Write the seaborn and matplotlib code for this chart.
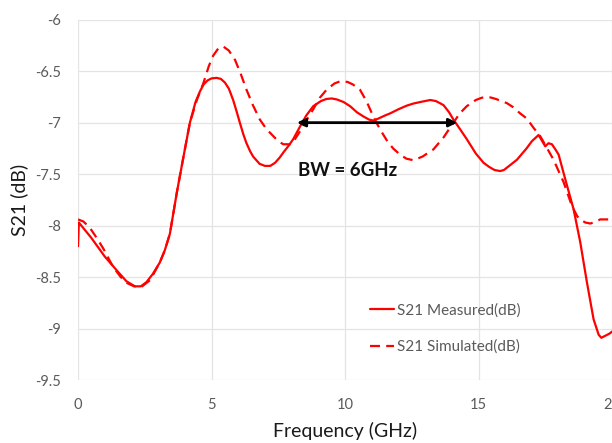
import matplotlib
matplotlib.use("Agg")
import matplotlib.pyplot as plt
import seaborn as sns
import pandas as pd
from matplotlib.ticker import FuncFormatter, MultipleLocator

# Measured S21 (dB) versus frequency (GHz)
meas_freq = [0, 0.03, 0.5, 1.0, 1.5, 1.81, 2.13, 2.35, 2.56, 2.8, 3.06, 3.25, 3.44,
             3.7, 3.95, 4.19, 4.4, 4.56, 4.7, 4.85, 5.0, 5.19, 5.35, 5.5, 5.65, 5.81,
             5.95, 6.06, 6.2, 6.31, 6.45, 6.56, 6.8, 7.0, 7.2, 7.38, 7.55, 7.69, 7.9,
             8.06, 8.31, 8.55, 8.81, 9.1, 9.3, 9.5, 9.7, 9.95, 10.19, 10.45, 10.69,
             10.9, 11.06, 11.25, 11.5, 11.69, 12.0, 12.31, 12.55, 12.81, 13.0, 13.19,
             13.4, 13.55, 13.69, 13.9, 14.06, 14.3, 14.56, 14.9, 15.19, 15.4, 15.6,
             15.81, 15.95, 16.1, 16.44, 16.8, 17.0, 17.25, 17.5, 17.62, 17.75, 17.88,
             18.0, 18.25, 18.56, 18.81, 19.06, 19.31, 19.5, 19.6, 19.75, 19.9, 20.0]
meas_s21 = [-8.2, -7.97, -8.12, -8.3, -8.45, -8.54, -8.59, -8.59, -8.55, -8.47,
            -8.36, -8.24, -8.08, -7.68, -7.33, -7.0, -6.8, -6.7, -6.63, -6.59,
            -6.57, -6.565, -6.575, -6.61, -6.67, -6.78, -6.9, -7.0, -7.12, -7.2,
            -7.28, -7.33, -7.4, -7.42, -7.42, -7.39, -7.34, -7.29, -7.22, -7.16,
            -7.04, -6.93, -6.84, -6.79, -6.77, -6.765, -6.775, -6.8, -6.84, -6.9,
            -6.94, -6.97, -6.98, -6.96, -6.93, -6.91, -6.87, -6.835, -6.815, -6.8,
            -6.79, -6.78, -6.79, -6.81, -6.83, -6.9, -6.97, -7.06, -7.16, -7.3,
            -7.39, -7.43, -7.46, -7.47, -7.46, -7.43, -7.36, -7.25, -7.18, -7.12,
            -7.23, -7.2, -7.21, -7.26, -7.31, -7.55, -7.84, -8.16, -8.55, -8.91,
            -9.06, -9.09, -9.07, -9.05, -9.03]

# Simulated S21 (dB) versus frequency (GHz)
sim_freq = [0, 0.2, 0.44, 0.7, 0.94, 1.31, 1.6, 1.85, 2.1, 2.4, 2.7, 3.06, 3.25,
            3.44, 3.7, 3.95, 4.19, 4.45, 4.69, 4.9, 5.06, 5.25, 5.44, 5.65, 5.88,
            6.1, 6.31, 6.55, 6.81, 7.05, 7.31, 7.5, 7.69, 7.94, 8.1, 8.3, 8.55, 8.81,
            9.05, 9.31, 9.6, 9.8, 9.94, 10.1, 10.3, 10.56, 10.8, 11.06, 11.3, 11.56,
            11.8, 12.06, 12.3, 12.56, 12.9, 13.31, 13.7, 14.06, 14.3, 14.56, 14.9,
            15.1, 15.25, 15.45, 15.65, 16.06, 16.3, 16.56, 16.81, 17.06, 17.31, 17.55,
            17.81, 18.19, 18.5, 18.7, 18.81, 19.0, 19.19, 19.4, 19.56, 19.86, 20.0]
sim_s21 = [-7.94, -7.96, -8.02, -8.12, -8.22, -8.4, -8.5, -8.56, -8.59, -8.59,
           -8.53, -8.36, -8.24, -8.08, -7.68, -7.33, -7.0, -6.78, -6.62, -6.45,
           -6.35, -6.28, -6.26, -6.3, -6.39, -6.53, -6.68, -6.83, -6.97, -7.06,
           -7.13, -7.18, -7.21, -7.21, -7.17, -7.09, -6.98, -6.87, -6.76, -6.68,
           -6.62, -6.6, -6.6, -6.605, -6.63, -6.68, -6.79, -6.94, -7.06, -7.17,
           -7.25, -7.31, -7.35, -7.365, -7.33, -7.26, -7.14, -7.0, -6.91, -6.84,
           -6.78, -6.76, -6.75, -6.755, -6.77, -6.81, -6.85, -6.91, -6.96, -7.05,
           -7.13, -7.24, -7.36, -7.58, -7.81, -7.91, -7.94, -7.97, -7.98, -7.96,
           -7.94, -7.94, -7.97]

# Bandwidth marker
bw_start = 8.2
bw_width = 6.0
bw_level = -7.0
bw_text = "BW = 6GHz"

x_ticks = [0, 5, 10, 15, 20]
y_ticks = [-9.5, -9, -8.5, -8, -7.5, -7, -6.5, -6]

meas_df = pd.DataFrame({"freq": meas_freq, "s21": meas_s21})
sim_df = pd.DataFrame({"freq": sim_freq, "s21": sim_s21})

sns.set_style("whitegrid", {"grid.color": "#e4e4e4"})
plt.rcParams["font.family"] = ["Lato", "DejaVu Sans"]
plt.rcParams["axes.unicode_minus"] = False

fig = plt.figure(figsize=(6.12, 4.43), dpi=100)
ax = fig.add_axes([0.1275, 0.1422, 0.8725, 0.8133])

sns.lineplot(data=meas_df, x="freq", y="s21", ax=ax, color="#ff0000", lw=1.6,
             estimator=None, sort=False, label="S21 Measured(dB)")
sns.lineplot(data=sim_df, x="freq", y="s21", ax=ax, color="#ff0000", lw=1.6,
             estimator=None, sort=False, linestyle=(0, (4.5, 2.8)),
             label="S21 Simulated(dB)")

ax.set_xlim(x_ticks[0], x_ticks[-1])
ax.set_ylim(y_ticks[0], y_ticks[-1])
ax.xaxis.set_major_locator(MultipleLocator(5))
ax.yaxis.set_major_locator(MultipleLocator(0.5))
ax.yaxis.set_major_formatter(FuncFormatter(lambda v, p: f"{v:g}"))
ax.xaxis.set_major_formatter(FuncFormatter(lambda v, p: f"{v:g}"))
ax.grid(True, color="#e4e4e4", lw=0.9)
for s in ax.spines.values():
    s.set_visible(False)
ax.tick_params(axis="both", length=0, labelsize=10.5, labelcolor="#5a5a5a")
ax.tick_params(axis="y", pad=12)
ax.tick_params(axis="x", pad=13)

ax.set_xlabel("Frequency (GHz)", fontsize=14, color="#1a1a1a", labelpad=7)
ax.set_ylabel("S21 (dB)", fontsize=14, color="#1a1a1a", labelpad=5)

ax.annotate("", xy=(bw_start, bw_level), xytext=(bw_start + bw_width, bw_level),
            arrowprops=dict(arrowstyle="<|-|>", color="black", lw=2,
                            mutation_scale=12, shrinkA=0, shrinkB=0))
ax.text(bw_start + 0.05, bw_level - 0.46, bw_text, fontsize=13.5, fontweight="bold",
        color="#111111", ha="left", va="center")

leg = ax.legend(loc="center left", bbox_to_anchor=(0.521, 0.143), frameon=False,
                fontsize=11, handlelength=1.57, handletextpad=0.2,
                labelspacing=1.45, borderpad=0.4)
for t in leg.get_texts():
    t.set_color("#5a5a5a")

fig.savefig("out.png", dpi=100)
